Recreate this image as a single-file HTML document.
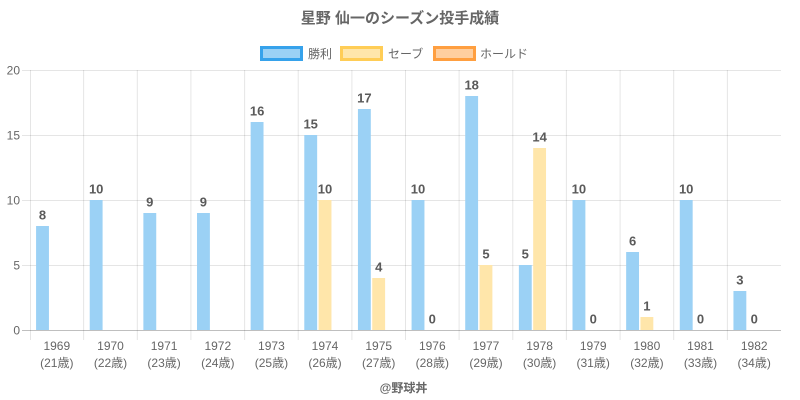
<!DOCTYPE html>
<html><head><meta charset="utf-8"><style>
html,body{margin:0;padding:0;background:#fff;}
svg{display:block;}
text{font-family:"Liberation Sans","Noto Sans CJK JP",sans-serif;}
</style></head><body>
<svg width="800" height="400" viewBox="0 0 800 400" xmlns="http://www.w3.org/2000/svg">
<rect width="800" height="400" fill="#fff"/>
<text x="400" y="23" text-anchor="middle" font-size="15" font-weight="bold" fill="#666">星野 仙一のシーズン投手成績</text>
<!-- legend -->
<rect x="261.5" y="47.5" width="40" height="12" fill="#9bd1f5" stroke="#36a2eb" stroke-width="3"/>
<text x="308" y="58" font-size="12" fill="#666">勝利</text>
<rect x="341.5" y="47.5" width="40" height="12" fill="#ffe6aa" stroke="#ffcd56" stroke-width="3"/>
<text x="388" y="58" font-size="12" fill="#666">セーブ</text>
<rect x="434.5" y="47.5" width="40" height="12" fill="#ffcf9f" stroke="#ff9f40" stroke-width="3"/>
<text x="480" y="58" font-size="12" fill="#666">ホールド</text>
<!-- horizontal grid -->
<g stroke="rgba(0,0,0,0.1)" stroke-width="1">
<line x1="22" y1="70.5" x2="781" y2="70.5"/>
<line x1="22" y1="135.5" x2="781" y2="135.5"/>
<line x1="22" y1="200.5" x2="781" y2="200.5"/>
<line x1="22" y1="265.5" x2="781" y2="265.5"/>
</g>
<!-- vertical grid -->
<g stroke="rgba(0,0,0,0.1)" stroke-width="1">
<line x1="30.5" y1="70" x2="30.5" y2="340"/>
<line x1="83.6" y1="70" x2="83.6" y2="340"/>
<line x1="137.3" y1="70" x2="137.3" y2="340"/>
<line x1="190.9" y1="70" x2="190.9" y2="340"/>
<line x1="244.6" y1="70" x2="244.6" y2="340"/>
<line x1="298.2" y1="70" x2="298.2" y2="340"/>
<line x1="351.9" y1="70" x2="351.9" y2="340"/>
<line x1="405.5" y1="70" x2="405.5" y2="340"/>
<line x1="459.1" y1="70" x2="459.1" y2="340"/>
<line x1="512.8" y1="70" x2="512.8" y2="340"/>
<line x1="566.4" y1="70" x2="566.4" y2="340"/>
<line x1="620.1" y1="70" x2="620.1" y2="340"/>
<line x1="673.7" y1="70" x2="673.7" y2="340"/>
<line x1="727.4" y1="70" x2="727.4" y2="340"/>
</g>
<!-- y labels -->
<g font-size="12" fill="#666" text-anchor="end">
<text x="20" y="74.5">20</text>
<text x="20" y="139.5">15</text>
<text x="20" y="204.5">10</text>
<text x="20" y="269.5">5</text>
<text x="20" y="334.5">0</text>
</g>
<!-- bars wins -->
<g fill="#9bd1f5">
<rect x="36.08" y="226" width="12.87" height="104"/>
<rect x="89.72" y="200" width="12.87" height="130"/>
<rect x="143.37" y="213" width="12.87" height="117"/>
<rect x="197.01" y="213" width="12.87" height="117"/>
<rect x="250.65" y="122" width="12.87" height="208"/>
<rect x="304.29" y="135" width="12.87" height="195"/>
<rect x="357.94" y="109" width="12.87" height="221"/>
<rect x="411.58" y="200" width="12.87" height="130"/>
<rect x="465.22" y="96" width="12.87" height="234"/>
<rect x="518.87" y="265" width="12.87" height="65"/>
<rect x="572.51" y="200" width="12.87" height="130"/>
<rect x="626.15" y="252" width="12.87" height="78"/>
<rect x="679.79" y="200" width="12.87" height="130"/>
<rect x="733.44" y="291" width="12.87" height="39"/>
</g>
<!-- bars saves -->
<g fill="#ffe6aa">
<rect x="318.59" y="200" width="12.87" height="130"/>
<rect x="372.24" y="278" width="12.87" height="52"/>
<rect x="479.52" y="265" width="12.87" height="65"/>
<rect x="533.17" y="148" width="12.87" height="182"/>
<rect x="640.45" y="317" width="12.87" height="13"/>
</g>
<!-- zero line -->
<line x1="22" y1="330.5" x2="781" y2="330.5" stroke="rgba(0,0,0,0.25)" stroke-width="1"/>
<!-- value labels -->
<g font-size="13" font-weight="bold" fill="#5a5a5a" text-anchor="middle">
<text x="42.5" y="219.5">8</text>
<text x="96.2" y="193.5">10</text>
<text x="149.8" y="206.5">9</text>
<text x="203.4" y="206.5">9</text>
<text x="257.1" y="115.5">16</text>
<text x="310.7" y="128.5">15</text>
<text x="364.4" y="102.5">17</text>
<text x="418" y="193.5">10</text>
<text x="471.7" y="89.5">18</text>
<text x="525.3" y="258.5">5</text>
<text x="578.9" y="193.5">10</text>
<text x="632.6" y="245.5">6</text>
<text x="686.2" y="193.5">10</text>
<text x="739.9" y="284.5">3</text>
<text x="325" y="193.5">10</text>
<text x="378.7" y="271.5">4</text>
<text x="432.3" y="323.5">0</text>
<text x="486" y="258.5">5</text>
<text x="539.6" y="141.5">14</text>
<text x="593.2" y="323.5">0</text>
<text x="646.9" y="310.5">1</text>
<text x="700.5" y="323.5">0</text>
<text x="754.2" y="323.5">0</text>
</g>
<!-- x labels -->
<g font-size="12" fill="#666" text-anchor="middle">
<text x="56.8" y="350">1969</text><text x="56.8" y="367">(21歳)</text>
<text x="110.5" y="350">1970</text><text x="110.5" y="367">(22歳)</text>
<text x="164.1" y="350">1971</text><text x="164.1" y="367">(23歳)</text>
<text x="217.8" y="350">1972</text><text x="217.8" y="367">(24歳)</text>
<text x="271.4" y="350">1973</text><text x="271.4" y="367">(25歳)</text>
<text x="325" y="350">1974</text><text x="325" y="367">(26歳)</text>
<text x="378.7" y="350">1975</text><text x="378.7" y="367">(27歳)</text>
<text x="432.3" y="350">1976</text><text x="432.3" y="367">(28歳)</text>
<text x="486" y="350">1977</text><text x="486" y="367">(29歳)</text>
<text x="539.6" y="350">1978</text><text x="539.6" y="367">(30歳)</text>
<text x="593.2" y="350">1979</text><text x="593.2" y="367">(31歳)</text>
<text x="646.9" y="350">1980</text><text x="646.9" y="367">(32歳)</text>
<text x="700.5" y="350">1981</text><text x="700.5" y="367">(33歳)</text>
<text x="754.2" y="350">1982</text><text x="754.2" y="367">(34歳)</text>
</g>
<text x="403.5" y="392" text-anchor="middle" font-size="12" font-weight="bold" fill="#666">@野球丼</text>
</svg>
</body></html>
